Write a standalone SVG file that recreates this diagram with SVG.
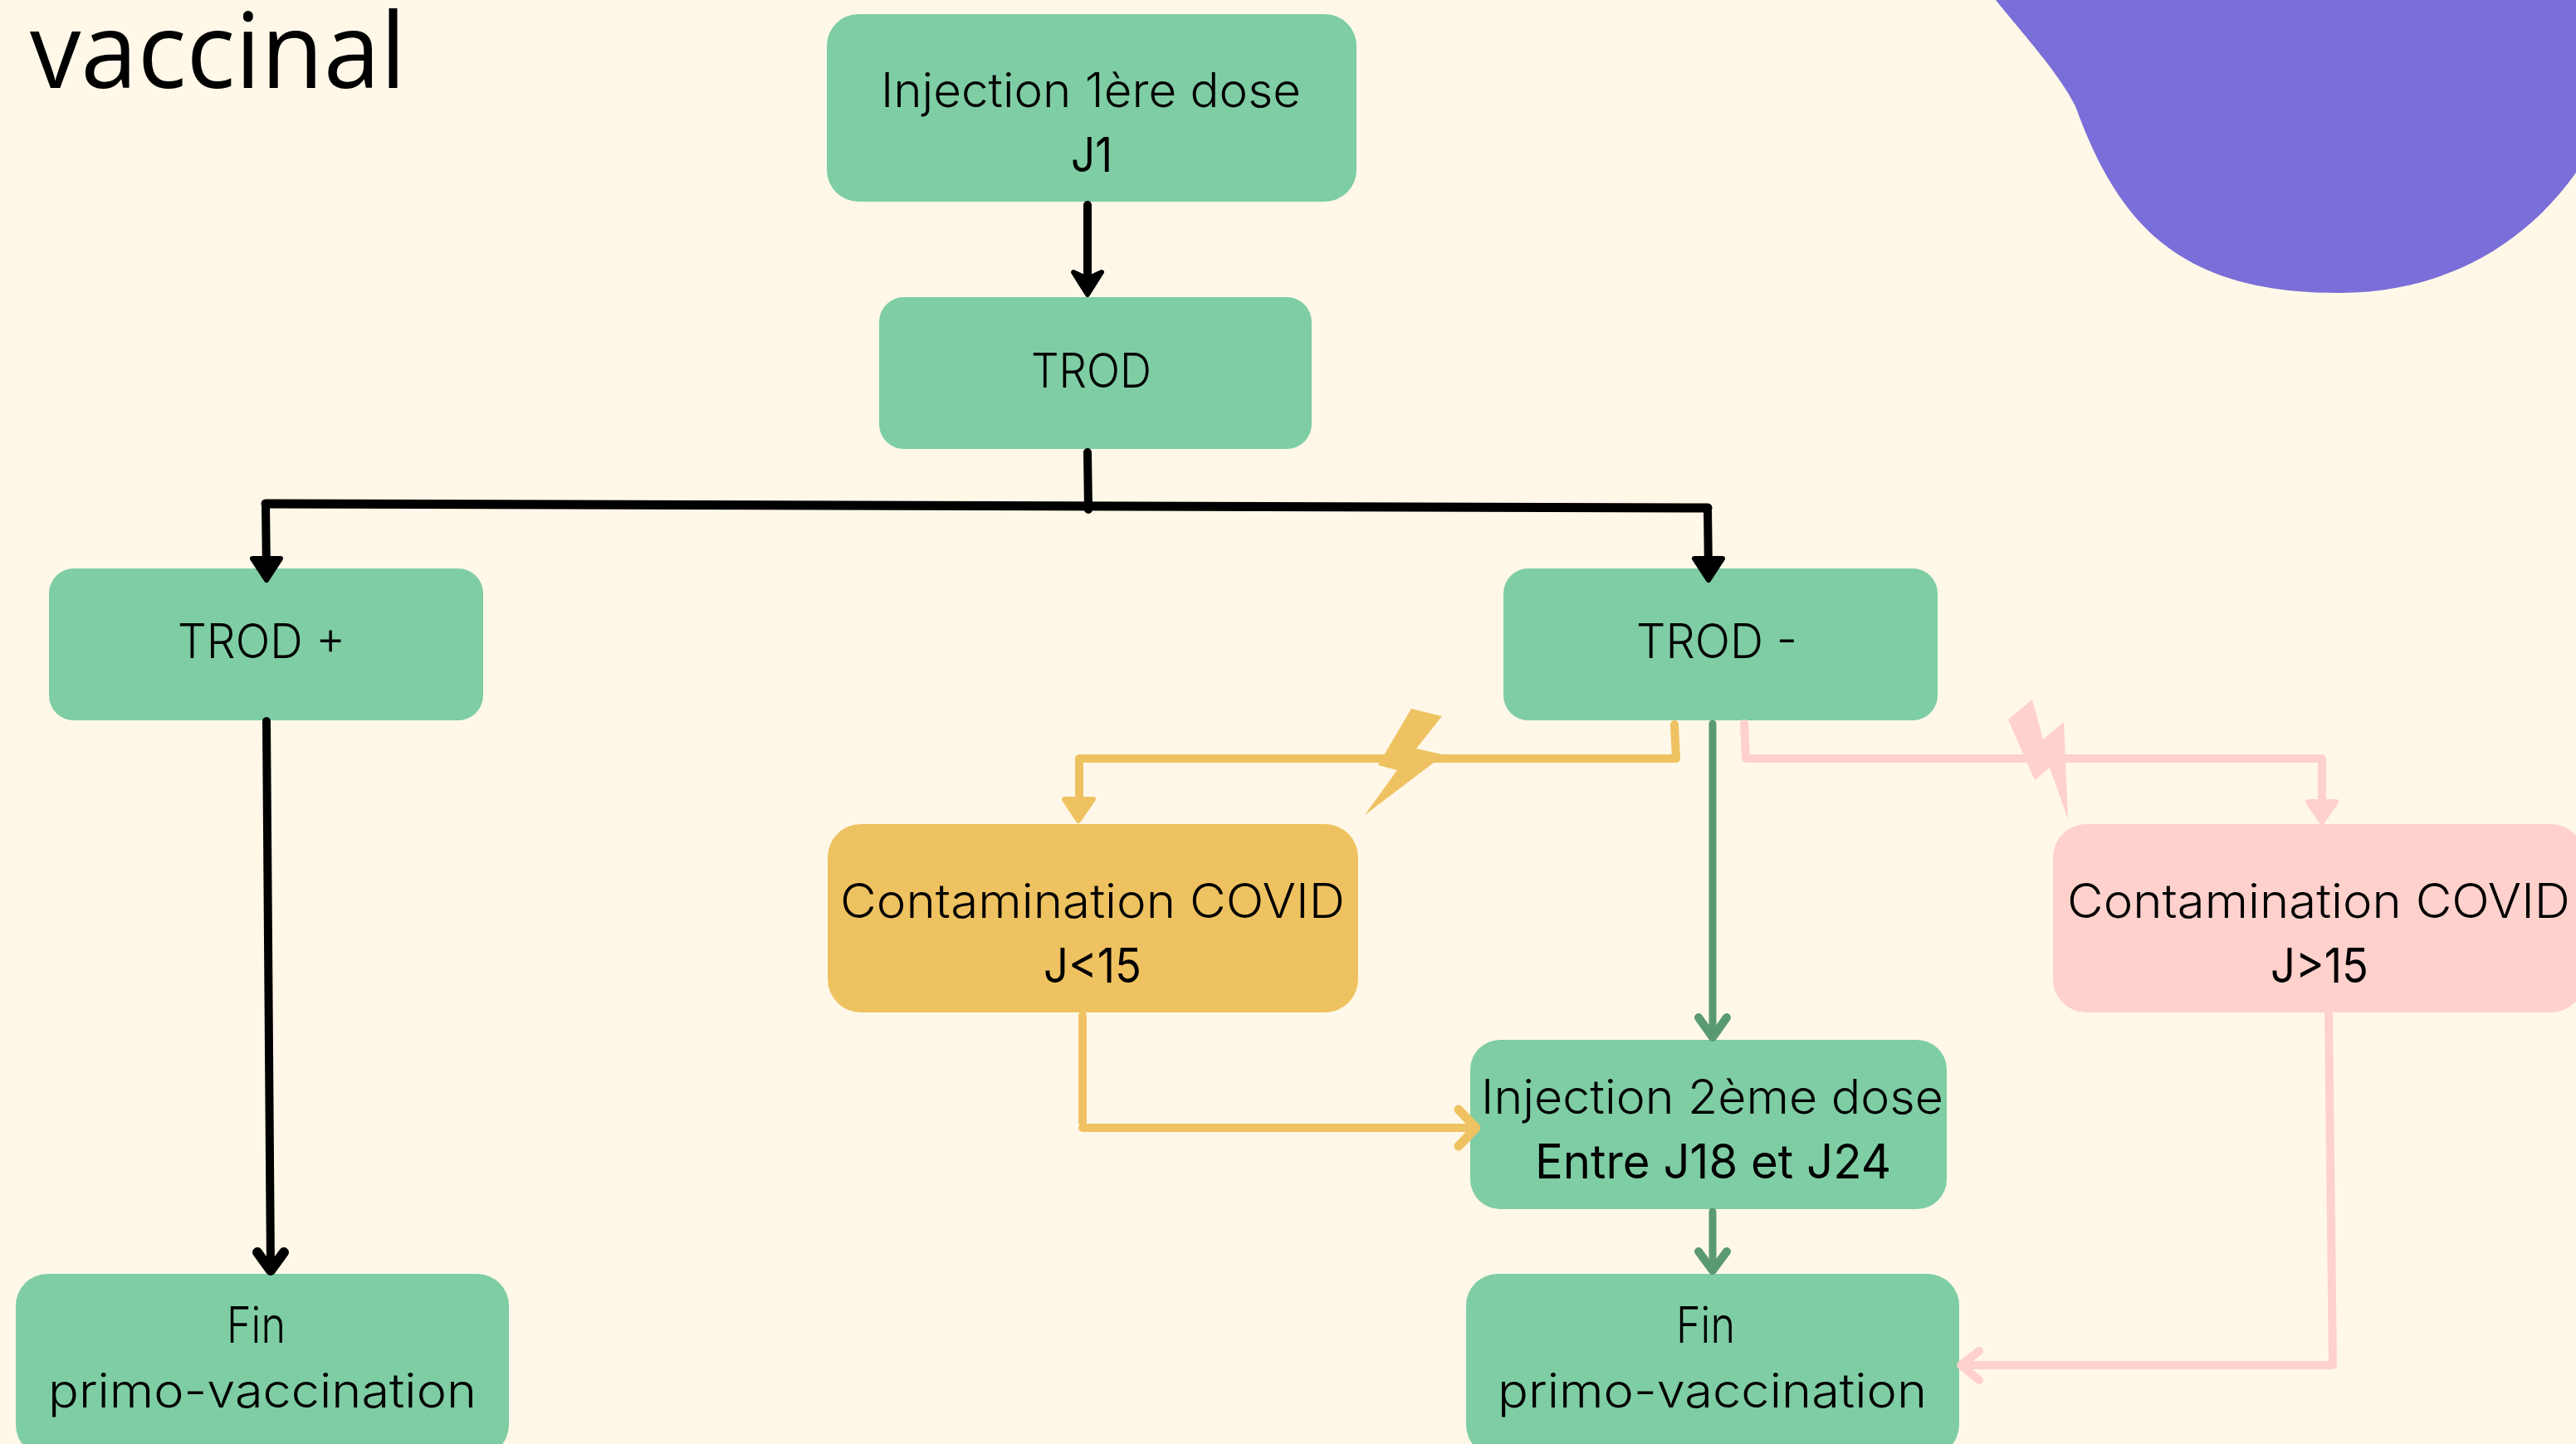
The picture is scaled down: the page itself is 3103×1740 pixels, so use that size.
<svg xmlns="http://www.w3.org/2000/svg" width="3103" height="1740" viewBox="0 0 3103 1740">
<style>
.t{font-family:"Inter","Noto Sans","Liberation Sans",sans-serif;font-size:57px;font-weight:300;fill:#000}
.b{font-weight:400}
.f{font-size:60px}
.title{font-family:"Open Sans","Noto Sans",sans-serif;font-size:127px;fill:#000}
.g{fill:#7FCDA4}
.y{fill:#EFC261}
.p{fill:#FFD1CC}
.l{fill:none;stroke-linecap:round;stroke-linejoin:round}
.k{stroke:#000;stroke-width:10}
.ly{stroke:#EFC261;stroke-width:10}
.lp{stroke:#FFD1CC;stroke-width:10}
.lg{stroke:#5A9A72;stroke-width:9}
</style>
<rect width="3103" height="1740" fill="#FFF8E9"/>
<path id="blob" d="M2404 0C2440 45 2480 88 2500 128C2550 265 2620 353 2817 353C2950 353 3045 290 3103 208V0Z" fill="#7A6ED8"/>
<text id="title" class="title" x="36" y="106" textLength="453" lengthAdjust="spacingAndGlyphs">vaccinal</text>
<g id="node-injection1"><rect class="g" x="996" y="17" width="638" height="226" rx="38"/><text class="t" x="1061" y="129" textLength="506" lengthAdjust="spacingAndGlyphs">Injection 1ère dose</text><text class="t b" x="1290" y="207" textLength="50" lengthAdjust="spacingAndGlyphs">J1</text></g>
<g id="node-trod"><rect class="g" x="1059" y="358" width="521" height="183" rx="30"/><text class="t" x="1242" y="467" textLength="145" lengthAdjust="spacingAndGlyphs">TROD</text></g>
<g id="node-trod-plus"><rect class="g" x="59" y="685" width="523" height="183" rx="30"/><text class="t" x="214" y="793" textLength="202" lengthAdjust="spacingAndGlyphs">TROD +</text></g>
<g id="node-trod-minus"><rect class="g" x="1811" y="685" width="523" height="183" rx="30"/><text class="t" x="1971" y="793" textLength="194" lengthAdjust="spacingAndGlyphs">TROD -</text></g>
<g id="node-contam-lt"><rect class="y" x="997" y="993" width="639" height="227" rx="40"/><text class="t" x="1012" y="1106" textLength="608" lengthAdjust="spacingAndGlyphs">Contamination COVID</text><text class="t b" x="1257" y="1184" textLength="118" lengthAdjust="spacingAndGlyphs">J&lt;15</text></g>
<g id="node-contam-gt"><rect class="p" x="2473" y="993" width="640" height="227" rx="40"/><text class="t" x="2490" y="1106" textLength="606" lengthAdjust="spacingAndGlyphs">Contamination COVID</text><text class="t b" x="2735" y="1184" textLength="118" lengthAdjust="spacingAndGlyphs">J&gt;15</text></g>
<g id="node-injection2"><rect class="g" x="1771" y="1253" width="574" height="204" rx="36"/><text class="t" x="1784" y="1342" textLength="557" lengthAdjust="spacingAndGlyphs">Injection 2ème dose</text><text class="t b" x="1849" y="1420" textLength="429" lengthAdjust="spacingAndGlyphs">Entre J18 et J24</text></g>
<g id="node-fin-left"><rect class="g" x="19" y="1535" width="594" height="220" rx="38"/><text class="t f" x="273" y="1618" textLength="71" lengthAdjust="spacingAndGlyphs">Fin</text><text class="t" x="58" y="1696" textLength="516" lengthAdjust="spacingAndGlyphs">primo-vaccination</text></g>
<g id="node-fin-right"><rect class="g" x="1766" y="1535" width="594" height="220" rx="38"/><text class="t f" x="2019" y="1618" textLength="71" lengthAdjust="spacingAndGlyphs">Fin</text><text class="t" x="1804" y="1696" textLength="517" lengthAdjust="spacingAndGlyphs">primo-vaccination</text></g>
<g id="connectors">
<path class="l k" d="M1310 247V350"/>
<path d="M1293 328L1310 355L1327 328L1310 336Z" fill="#000" stroke="#000" stroke-width="6" stroke-linejoin="round"/>
<path class="l k" d="M1310 545L1311 614"/>
<path class="l k" style="stroke-width:11" d="M320 607L2057 612"/>
<path class="l k" d="M320 607L321 690"/>
<path d="M304 673H338L321 699Z" fill="#000" stroke="#000" stroke-width="6" stroke-linejoin="round"/>
<path class="l k" d="M2057 612L2058 690"/>
<path d="M2041 673H2075L2058 699Z" fill="#000" stroke="#000" stroke-width="6" stroke-linejoin="round"/>
<path class="l k" d="M321 869L326 1528"/>
<path class="l k" style="stroke-width:12" d="M310 1509L326 1531L342 1509"/>
<path class="l ly" d="M2017 873L2019 914H1300V965"/>
<path d="M1282 963H1317L1299 989Z" class="y" stroke="#EFC261" stroke-width="6" stroke-linejoin="round"/>
<path id="bolt-yellow" class="y" d="M1700 854L1737 863L1706 902L1737 909L1727 919L1644 982L1683 928L1660 922Z"/>
<path class="l ly" d="M1304 1224V1352"/>
<path class="l ly" d="M1304 1359H1776"/>
<path class="l ly" style="stroke-width:11" d="M1757 1337L1778 1359L1757 1381"/>
<path class="l lg" d="M2063 872V1248"/>
<path class="l lg" style="stroke-width:10" d="M2046 1226L2063 1250L2080 1226"/>
<path class="l lg" d="M2063 1460V1529"/>
<path class="l lg" style="stroke-width:10" d="M2046 1508L2063 1531L2080 1508"/>
<path class="l lp" d="M2101 872L2103 914H2797V970"/>
<path d="M2780 966H2814L2797 991Z" class="p" stroke="#FFD1CC" stroke-width="6" stroke-linejoin="round"/>
<path id="bolt-pink" class="p" d="M2448 843L2461 891L2486 870L2491 987L2469 925L2451 940L2419 867Z"/>
<path class="l lp" d="M2805 1222L2810 1645H2364"/>
<path class="l lp" d="M2384 1628L2362 1645L2384 1663"/>
</g>
</svg>
